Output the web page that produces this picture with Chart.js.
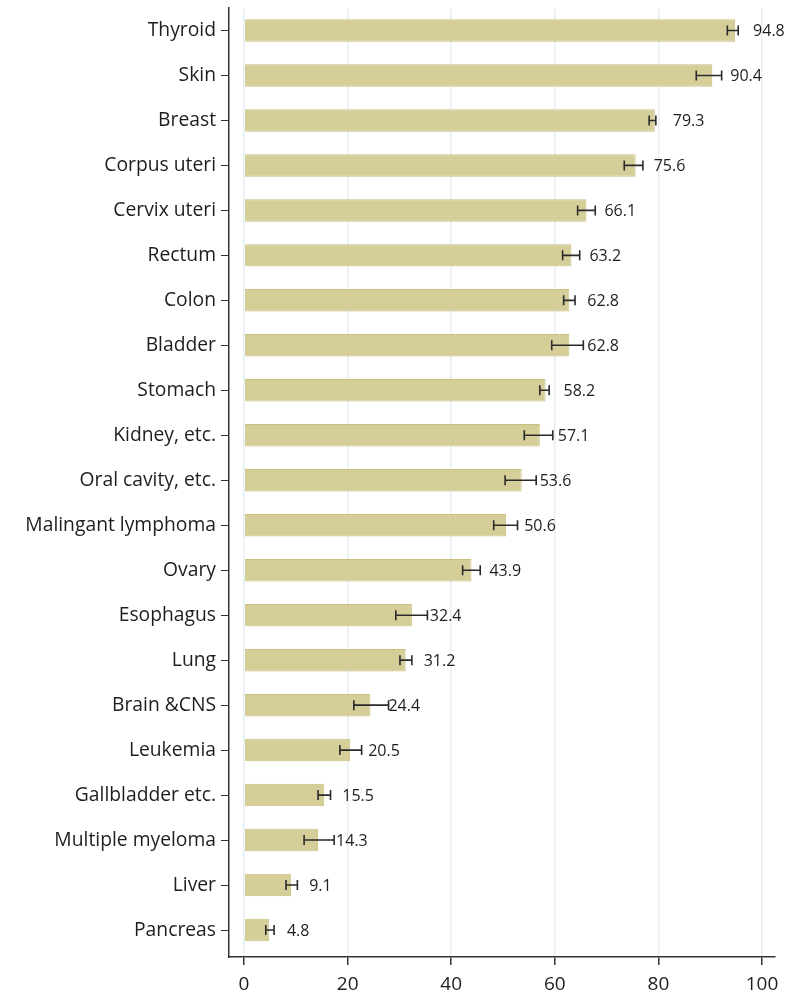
<!DOCTYPE html>
<html>
<head>
<meta charset="utf-8">
<script src="https://cdn.jsdelivr.net/npm/chart.js@4.4.1/dist/chart.umd.min.js"></script>
<style>
html,body{margin:0;padding:0;background:#fff;}
#c{display:block;}
</style>
</head>
<body>
<canvas id="c" width="795" height="1001"></canvas>
<script>
const categories = ["Thyroid","Skin","Breast","Corpus uteri","Cervix uteri","Rectum","Colon","Bladder","Stomach","Kidney, etc.","Oral cavity, etc.","Malingant lymphoma","Ovary","Esophagus","Lung","Brain &CNS","Leukemia","Gallbladder etc.","Multiple myeloma","Liver","Pancreas"];
const survival = [94.8,90.4,79.3,75.6,66.1,63.2,62.8,62.8,58.2,57.1,53.6,50.6,43.9,32.4,31.2,24.4,20.5,15.5,14.3,9.1,4.8];
const ciLower = [93.3,87.3,78.2,73.4,64.4,61.5,61.7,59.4,57.1,54.1,50.4,48.2,42.2,29.3,30.1,21.2,18.5,14.3,11.6,8.1,4.2];
const ciUpper = [95.4,92.2,79.5,77.0,67.8,64.8,63.9,65.5,58.9,59.6,56.4,52.8,45.6,35.4,32.4,27.9,22.7,16.7,17.4,10.3,5.8];
const xTicks = [0,20,40,60,80,100];

const errorBarsAndLabels = {
  id:'errorBarsAndLabels',
  afterDatasetsDraw(chart){
    const ctx = chart.ctx;
    const xs = chart.scales.x, ys = chart.scales.y;
    ctx.save();
    ctx.strokeStyle = '#2a2a2a';
    ctx.lineWidth = 1.6;
    for (let i=0;i<categories.length;i++){
      const y = ys.getPixelForValue(i);
      const x1 = xs.getPixelForValue(ciLower[i]);
      const x2 = xs.getPixelForValue(ciUpper[i]);
      ctx.beginPath();
      ctx.moveTo(x1,y); ctx.lineTo(x2,y);
      ctx.moveTo(x1,y-5); ctx.lineTo(x1,y+5);
      ctx.moveTo(x2,y-5); ctx.lineTo(x2,y+5);
      ctx.stroke();
    }
    ctx.fillStyle = '#1e1e1e';
    ctx.font = "16px 'Open Sans', sans-serif";
    ctx.textAlign = 'left';
    ctx.textBaseline = 'middle';
    for (let i=0;i<categories.length;i++){
      const y = ys.getPixelForValue(i);
      const x = xs.getPixelForValue(survival[i]) + 18;
      ctx.fillText(survival[i].toFixed(1), x, y+1);
    }
    ctx.restore();
  }
};

new Chart(document.getElementById('c'), {
  type:'bar',
  data:{
    datasets:[{
      data: survival.map((v,i)=>({x:v, y:i})),
      backgroundColor:'#d5ce99',
      borderColor:'#c9c07e',
      borderWidth:1,
      barPercentage:0.5,
      categoryPercentage:1
    }]
  },
  options:{
    indexAxis:'y',
    responsive:false,
    animation:false,
    layout:{padding:{top:8,right:20,left:0,bottom:0}},
    plugins:{legend:{display:false},tooltip:{enabled:false}},
    scales:{
      x:{
        type:'linear',
        min:-2.9, max:102.5,
        afterBuildTicks(scale){ scale.ticks = xTicks.map(v=>({value:v})); },
        afterFit(scale){ scale.height = 44; scale.paddingLeft = 0; scale.paddingRight = 0; },
        grid:{color:'#e4eef3', lineWidth:1.5, tickColor:'#333', tickLength:8, drawOnChartArea:true},
        border:{display:true, color:'#333', width:1.5},
        ticks:{font:{family:"'Open Sans', sans-serif", size:19}, color:'#1e1e1e', padding:8, maxRotation:0}
      },
      y:{
        type:'linear',
        reverse:true,
        offset:false,
        min:-0.5, max:20.6,
        afterBuildTicks(scale){ scale.ticks = categories.map((c,i)=>({value:i})); },
        afterFit(scale){ scale.width = 229; scale.paddingTop = 0; scale.paddingBottom = 0; },
        grid:{offset:false, drawOnChartArea:false, tickColor:'#333', tickLength:8},
        border:{display:true, color:'#333', width:1.5},
        ticks:{font:{family:"'Open Sans', sans-serif", size:19.3}, color:'#1e1e1e', padding:5, autoSkip:false, callback:(v)=>categories[v]}
      }
    }
  },
  plugins:[errorBarsAndLabels]
});
</script>
</body>
</html>
